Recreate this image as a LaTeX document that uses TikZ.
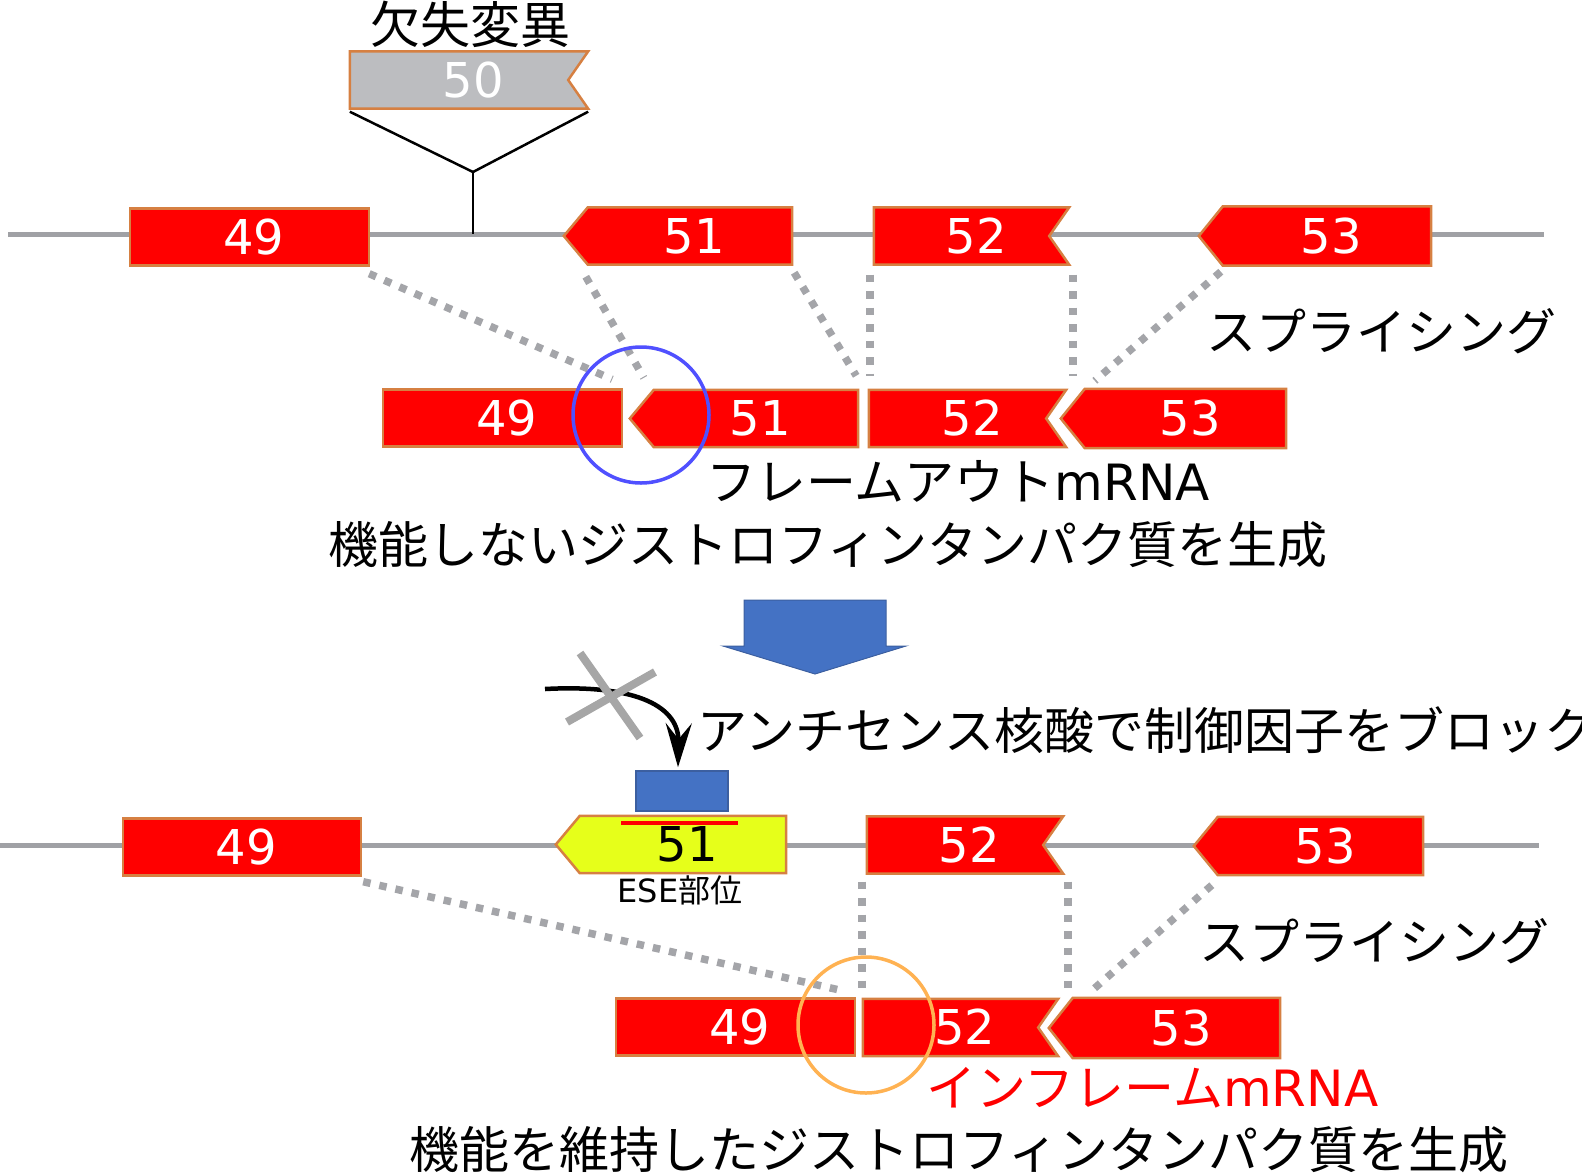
\documentclass[tikz,border=0pt]{standalone}
\usepackage{fontspec}
\usepackage{tikz}
\usetikzlibrary{arrows.meta,calc,backgrounds}
\newfontfamily\jpfam{Noto Sans CJK JP}
\newfontfamily\numfam{DejaVu Sans}
\definecolor{exonred}{RGB}{255,0,0}
\definecolor{exonedge}{RGB}{214,128,66}
\definecolor{strandgray}{RGB}{160,161,165}
\definecolor{dotgray}{RGB}{164,165,169}
\definecolor{skipgray}{RGB}{188,189,192}
\definecolor{asoblue}{RGB}{68,114,196}
\definecolor{asoedge}{RGB}{60,95,160}
\definecolor{eseyellow}{RGB}{230,255,26}
\definecolor{outblue}{RGB}{80,80,255}
\definecolor{inorange}{RGB}{255,178,82}
\newcommand{\boxexon}[2][exonred]{\path[exonpath,fill=#1] (#2.north west) rectangle (#2.south east);}
\newcommand{\leftexon}[2][exonred]{\path[exonpath,fill=#1] (#2.north west) -- (#2.north east) -- (#2.south east) -- (#2.south west) -- ($(#2.west)+(-24,0)$) -- cycle;}
\newcommand{\notchexon}[2][exonred]{\path[exonpath,fill=#1] (#2.north west) -- (#2.north east) -- ($(#2.east)+(-20,0)$) -- (#2.south east) -- (#2.south west) -- cycle;}

\begin{document}
\begin{tikzpicture}[x=1pt,y=-1pt,
  exon/.style={inner sep=0pt,minimum height=57,font=\numfam\fontsize{48}{50}\selectfont,text=white,
    execute at begin node={\hspace*{9pt}}},
  exonpath/.style={draw=exonedge,line width=2.5pt,line join=miter},
  jp/.style={inner sep=0pt,anchor=west,font=\jpfam\fontsize{50}{52}\selectfont},
  splice/.style={draw=dotgray,line width=7.5pt,dash pattern=on 7.5pt off 9pt},
  strand/.style={draw=strandgray,line width=5pt},
  >={Stealth[length=44pt,width=26pt,inset=16pt]}]
\useasboundingbox (0,0) rectangle (1582,1173);

% deletion
\node[jp,anchor=center] (title) at (470,24) {欠失変異};
\node[exon,minimum width=238] (g50) at (469,80) {50};
\coordinate (jn) at (473,172);
\coordinate (ins) at (473,234);
\draw[line width=2.5pt] ($(g50.south west)+(0,3)$) -- (jn) -- ($(g50.south east)+(0,3)$);
\draw[line width=2.5pt] (jn) -- (ins);

% pre-mRNA, no treatment
\node[exon,minimum width=239] (t49) at (249.5,237) {49};
\node[exon,minimum width=204] (t51) at (690,236) {51};
\node[exon,minimum width=195] (t52) at (971.5,236) {52};
\node[exon,minimum width=208,minimum height=59] (t53) at (1327,236) {53};
\node[jp] (splice1) at (1206,331) {スプライシング};

% out-of-frame mRNA
\node[exon,minimum width=239] (b49) at (502.5,418) {49};
\node[exon,minimum width=204] (b51) at (756,418.5) {51};
\node[exon,minimum width=197] (b52) at (967.5,418.5) {52};
\node[exon,minimum width=201,minimum height=59] (b53) at (1185.5,418.5) {53};
\node[jp] (outtxt) at (706,481) {フレームアウト{\numfam mRNA}};
\node[jp] (outres) at (328,545) {機能しないジストロフィンタンパク質を生成};

\draw[splice] ($(t49.south east)+(0,8)$) -- ($(b49.north east)+(-10,-10)$);
\draw[splice] ($(t51.south west)+(-2,12)$) -- ($(b51.north west)+(-10,-12)$);
\draw[splice] ($(t51.south east)+(2,8)$) -- ($(b51.north east)+(-2,-14)$);
\draw[splice] ($(t52.south west)+(-4,10)$) -- ($(b52.north west)+(1,-14)$);
\draw[splice] ($(t52.south east)+(4,10)$) -- ($(b52.north east)+(7,-14)$);
\draw[splice] ($(t53.south west)+(-2,6)$) -- ($(b53.north west)+(10,-8)$);
\draw[outblue,line width=3.5pt] (641,415) circle (68);

% treatment
\path[fill=asoblue,draw=asoedge,line width=1pt] (744,600) -- (886,600) -- (886,646) -- (906,646) -- (815,674) -- (723,646) -- (744,646) -- cycle;
\node[inner sep=0pt,minimum width=92,minimum height=40,fill=asoblue,draw=asoedge,line width=1.5pt] (aso) at (682,791) {};
\coordinate (asostart) at (545,689);
\draw[->,line width=4.5pt] (asostart) .. controls (640,684) and (679,708) .. ([xshift=-4pt,yshift=3pt]aso.north);
\draw[gray!70,line width=8pt] (580,653) -- (640,738);
\draw[gray!70,line width=8pt] (655,672) -- (567,722);
\node[jp] (asotxt) at (697,730) {アンチセンス核酸で制御因子をブロック};

% pre-mRNA with antisense
\node[exon,minimum width=238] (c49) at (242,847) {49};
\node[exon,minimum width=206,text=black] (c51) at (683,844.5) {51};
\node[exon,minimum width=196] (c52) at (965,845) {52};
\node[exon,minimum width=205,minimum height=58] (c53) at (1320.5,846) {53};
\draw[red,line width=4pt] ($(c51.north)+(-62,7)$) -- ($(c51.north)+(55,7)$);
\node[inner sep=0pt,font=\jpfam\fontsize{32}{34}\selectfont] (ese) at (680,890) {{\numfam ESE}部位};
\node[jp] (splice2) at (1199,941) {スプライシング};

% in-frame mRNA
\node[exon,minimum width=239] (d49) at (735.5,1027) {49};
\node[exon,minimum width=195] (d52) at (960.5,1027.5) {52};
\node[exon,minimum width=207,minimum height=60] (d53) at (1176.5,1028) {53};
\node[jp,text=red] (intxt) at (926,1088) {インフレーム{\numfam mRNA}};
\node[jp] (inres) at (409,1150) {機能を維持したジストロフィンタンパク質を生成};

\draw[splice] ($(c49.south east)+(2,6)$) -- ($(d49.north east)+(-10,-7)$);
\draw[splice] ($(c52.south west)+(-5,8)$) -- ($(d52.north west)+(-1,-9)$);
\draw[splice] ($(c52.south east)+(5,8)$) -- ($(d52.north east)+(10,-9)$);
\draw[splice] ($(c53.south west)+(-6,10)$) -- ($(d53.north west)+(20,-8)$);
\draw[inorange,line width=3.5pt] (866,1025) circle (68);

\begin{scope}[on background layer]
\draw[strand] (8,234) -- (1544,234);
\draw[strand] (0,845) -- (1539,845);
\notchexon[skipgray]{g50}
\boxexon{t49} \leftexon{t51} \notchexon{t52} \leftexon{t53}
\boxexon{b49} \leftexon{b51} \notchexon{b52} \leftexon{b53}
\boxexon{c49} \leftexon[eseyellow]{c51} \notchexon{c52} \leftexon{c53}
\boxexon{d49} \notchexon{d52} \leftexon{d53}
\end{scope}
\end{tikzpicture}
\end{document}
